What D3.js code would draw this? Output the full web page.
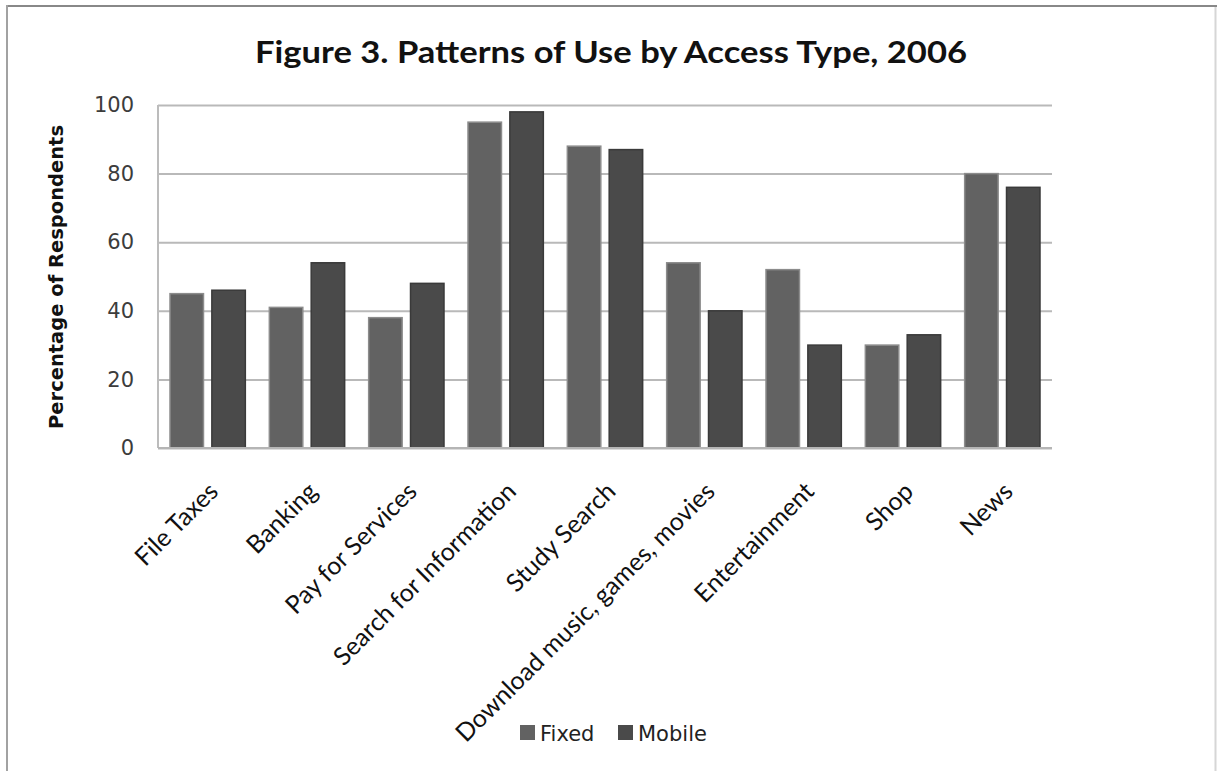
<!DOCTYPE html>
<html>
<head>
<meta charset="utf-8">
<script src="https://cdn.jsdelivr.net/npm/d3@7"></script>
<style>
  body { margin: 0; background: #fff; }
  svg { display: block; }
</style>
</head>
<body>
<div id="chart"></div>
<script>
const categories = ['File Taxes', 'Banking', 'Pay for Services', 'Search for Information', 'Study Search',
  'Download music, games, movies', 'Entertainment', 'Shop', 'News'];
const fixedValues = [45, 41, 38, 95, 88, 54, 52, 30, 80];
const mobileValues = [46, 54, 48, 98, 87, 40, 30, 33, 76];
const seriesNames = ['Fixed', 'Mobile'];
const yTicks = [0, 20, 40, 60, 80, 100];

const width = 1217, height = 771;
const margin = { top: 105, right: 165, bottom: 323, left: 158 };
const colors = { Fixed: '#626262', Mobile: '#4a4a4a' };
const strokes = { Fixed: '#8c8c8c', Mobile: '#3a3a3a' };

const svg = d3.select('#chart').append('svg')
  .attr('width', width)
  .attr('height', height);

// outer frame (only top, left and right edges show)
svg.append('line').attr('x1', 6).attr('x2', width).attr('y1', 6).attr('y2', 6)
  .attr('stroke', '#888').attr('stroke-width', 2);
svg.append('line').attr('x1', 7).attr('x2', 7).attr('y1', 5).attr('y2', height)
  .attr('stroke', '#a2a2a2').attr('stroke-width', 2);
svg.append('line').attr('x1', 1215.5).attr('x2', 1215.5).attr('y1', 7).attr('y2', height)
  .attr('stroke', '#d6d6d6').attr('stroke-width', 2);

svg.append('text')
  .attr('x', 611).attr('y', 63)
  .attr('text-anchor', 'middle')
  .attr('font-family', 'Lato, "Open Sans", sans-serif')
  .attr('font-weight', 'bold')
  .attr('font-size', 30)
  .attr('textLength', 712).attr('lengthAdjust', 'spacingAndGlyphs')
  .attr('fill', '#111')
  .text('Figure 3. Patterns of Use by Access Type, 2006');

const innerW = width - margin.left - margin.right;
const innerH = height - margin.top - margin.bottom;

const g = svg.append('g').attr('transform', `translate(${margin.left},${margin.top})`);

const x = d3.scaleBand().domain(categories).range([0, innerW]).paddingInner(0).paddingOuter(0);
const xs = d3.scaleBand().domain(seriesNames).range([12, x.bandwidth() - 12]).paddingInner(0.2);
const y = d3.scaleLinear().domain([0, 100]).range([innerH, 0]);

// gridlines
g.append('g')
  .call(d3.axisLeft(y).tickValues(yTicks).tickSize(-innerW).tickFormat(''))
  .call(s => s.select('.domain').remove())
  .call(s => s.selectAll('line').attr('stroke', '#b9b9b9').attr('stroke-width', 2));

// y axis line
g.append('line')
  .attr('x1', 0).attr('x2', 0).attr('y1', y(100)).attr('y2', y(0))
  .attr('stroke', '#bcbcbc').attr('stroke-width', 2);

// y tick labels
g.append('g')
  .call(d3.axisLeft(y).tickValues(yTicks).tickSize(0).tickPadding(24))
  .call(s => s.select('.domain').remove())
  .call(s => s.selectAll('text')
    .attr('font-family', '"DejaVu Sans", sans-serif')
    .attr('font-size', 21)
    .attr('fill', '#3c3c3c'));

const data = categories.map((c, i) => ({ cat: c, Fixed: fixedValues[i], Mobile: mobileValues[i] }));

const groups = g.selectAll('.grp').data(data).enter().append('g')
  .attr('transform', d => `translate(${x(d.cat)},0)`);

groups.selectAll('rect')
  .data(d => seriesNames.map(k => ({ key: k, value: d[k] })))
  .enter().append('rect')
  .attr('x', d => xs(d.key))
  .attr('y', d => y(d.value))
  .attr('width', xs.bandwidth())
  .attr('height', d => y(0) - y(d.value))
  .attr('fill', d => colors[d.key])
  .attr('stroke', d => strokes[d.key])
  .attr('stroke-width', 1.5);

// bottom axis line
g.append('line')
  .attr('x1', 0).attr('x2', innerW).attr('y1', y(0)).attr('y2', y(0))
  .attr('stroke', '#b5b5b5').attr('stroke-width', 2);

// x labels
g.append('g')
  .attr('transform', `translate(0,${innerH})`)
  .call(d3.axisBottom(x).tickSize(0).tickPadding(0))
  .call(s => s.select('.domain').remove())
  .call(s => s.selectAll('text')
    .attr('font-family', 'Lato, "Open Sans", sans-serif')
    .attr('font-size', 25)
    .attr('fill', '#111')
    .attr('text-anchor', 'end')
    .attr('dy', 0)
    .attr('transform', 'translate(12,45) rotate(-45)'));

// y title
svg.append('text')
  .attr('transform', 'translate(63,277) rotate(-90)')
  .attr('text-anchor', 'middle')
  .attr('font-family', '"DejaVu Sans", sans-serif')
  .attr('font-weight', 'bold')
  .attr('font-size', 19.5)
  .attr('fill', '#111')
  .text('Percentage of Respondents');

// legend
const legend = svg.append('g').attr('transform', 'translate(520,733)');
const items = legend.selectAll('g').data(seriesNames).enter().append('g')
  .attr('transform', (d, i) => `translate(${i * 98},0)`);
items.append('rect')
  .attr('x', 0).attr('y', -8).attr('width', 15).attr('height', 15)
  .attr('fill', d => colors[d]);
items.append('text')
  .attr('x', 20).attr('y', 8)
  .attr('font-family', '"DejaVu Sans", sans-serif')
  .attr('font-size', 21)
  .attr('fill', '#222')
  .text(d => d);
</script>
</body>
</html>
